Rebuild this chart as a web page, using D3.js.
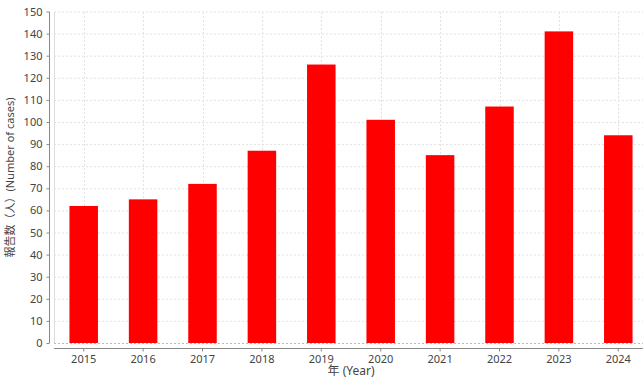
<!DOCTYPE html>
<html>
<head>
<meta charset="utf-8">
<script src="https://cdn.jsdelivr.net/npm/d3@7"></script>
<style>
  body { margin: 0; background: #fff; }
  svg { display: block; }
  text { font-family: "Noto Sans", "Noto Sans CJK JP", sans-serif; fill: #444; }
</style>
</head>
<body>
<div id="vis"></div>
<script>
const years = ["2015", "2016", "2017", "2018", "2019", "2020", "2021", "2022", "2023", "2024"];
const cases = [62, 65, 72, 87, 126, 101, 85, 107, 141, 94];
const yTicks = [0, 10, 20, 30, 40, 50, 60, 70, 80, 90, 100, 110, 120, 130, 140, 150];

const W = 643, H = 378;
// plot area (JFreeChart style: axes offset from the plot by a few px)
const plot = { left: 54, top: 12, right: 648, bottom: 343 };
const offset = 5;

const svg = d3.select("#vis").append("svg")
  .attr("width", W)
  .attr("height", H);

const x = d3.scaleBand()
  .domain(years)
  .range([plot.left, plot.right])
  .paddingInner(0)
  .paddingOuter(0);

const y = d3.scaleLinear()
  .domain([0, 150])
  .range([plot.bottom, plot.top - 0.5]);

// gridlines
const grid = svg.append("g");
grid.selectAll("line.h")
  .data(yTicks)
  .enter().append("line")
  .attr("x1", plot.left).attr("x2", plot.right)
  .attr("y1", d => y(d) + 0.5).attr("y2", d => y(d) + 0.5)
  .attr("stroke", d => d === 0 ? "#bbb" : "#e2e2e2")
  .attr("stroke-dasharray", "2,2");

grid.selectAll("line.v")
  .data(years)
  .enter().append("line")
  .attr("x1", d => Math.round(x(d) + x.bandwidth() / 2) + 0.5)
  .attr("x2", d => Math.round(x(d) + x.bandwidth() / 2) + 0.5)
  .attr("y1", plot.top).attr("y2", plot.bottom)
  .attr("stroke", "#e2e2e2")
  .attr("stroke-dasharray", "2,2");

// plot left border
svg.append("line")
  .attr("x1", plot.left + 0.5).attr("x2", plot.left + 0.5)
  .attr("y1", plot.top).attr("y2", plot.bottom)
  .attr("stroke", "#ddd");

// bars
const barW = x.bandwidth() * 0.48;
svg.selectAll("rect.bar")
  .data(years)
  .enter().append("rect")
  .attr("class", "bar")
  .attr("x", d => x(d) + (x.bandwidth() - barW) / 2)
  .attr("y", (d, i) => y(cases[i]))
  .attr("width", barW)
  .attr("height", (d, i) => plot.bottom - y(cases[i]))
  .attr("fill", "#ff0000");

// left axis
const yAxis = svg.append("g")
  .attr("transform", `translate(${plot.left - offset + 0.5},0)`)
  .call(d3.axisLeft(y).tickValues(yTicks).tickSize(3).tickPadding(4));
yAxis.select(".domain").attr("stroke", "#888").attr("d", `M0,${plot.top}V${plot.bottom}`);
yAxis.selectAll(".tick line").attr("stroke", "#888");
yAxis.selectAll(".tick text").style("font-size", "11px").attr("fill", "#444");

// bottom axis
const xAxis = svg.append("g")
  .attr("transform", `translate(0,${plot.bottom + offset + 0.5})`)
  .call(d3.axisBottom(x).tickSize(3).tickPadding(4));
xAxis.select(".domain").attr("stroke", "#888").attr("d", `M${plot.left},0H${plot.right}`);
xAxis.selectAll(".tick line").attr("stroke", "#888");
xAxis.selectAll(".tick text").style("font-size", "11px").attr("fill", "#444");

// axis titles
svg.append("text")
  .attr("transform", `translate(11,${(plot.top + plot.bottom) / 2}) rotate(-90)`)
  .attr("text-anchor", "middle")
  .attr("dominant-baseline", "middle")
  .style("font-size", "11px")
  .text("報告数（人）(Number of cases)");

svg.append("text")
  .attr("x", 351)
  .attr("y", 375)
  .attr("text-anchor", "middle")
  .style("font-size", "12px")
  .text("年 (Year)");
</script>
</body>
</html>
